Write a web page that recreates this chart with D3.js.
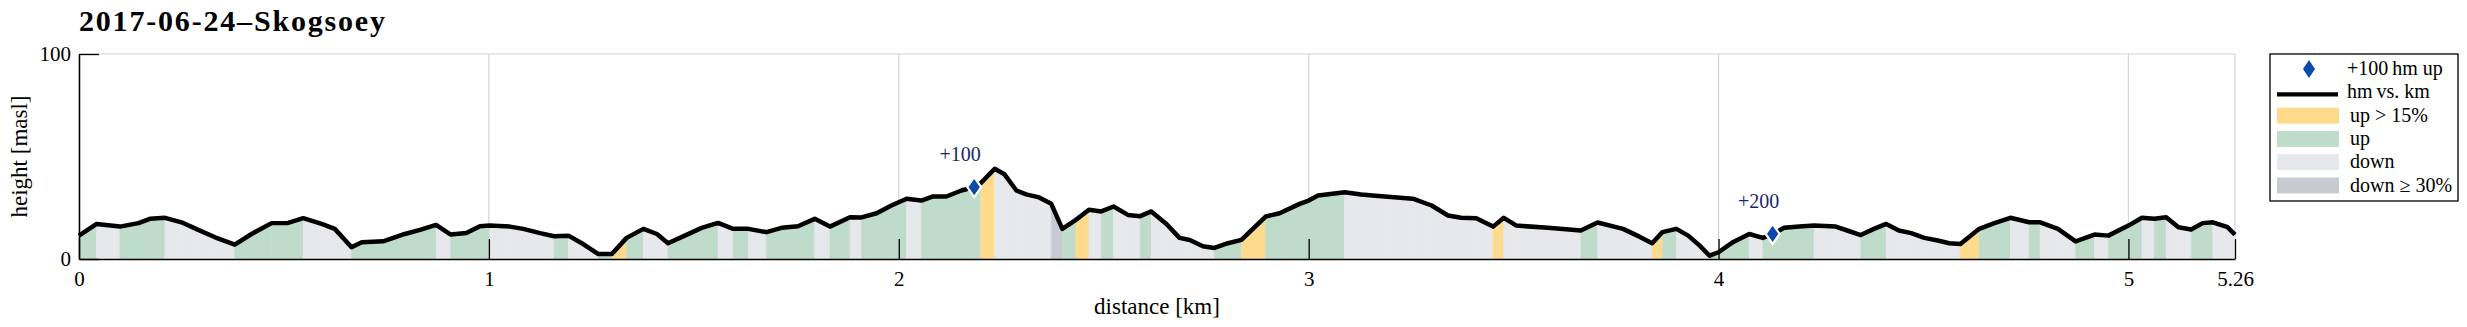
<!DOCTYPE html>
<html><head><meta charset="utf-8">
<script src="https://cdn.jsdelivr.net/npm/d3@7/dist/d3.min.js"></script>
<style>
html,body{margin:0;padding:0;background:#fff;}
text{font-family:"Liberation Serif","DejaVu Serif",serif;}
</style></head>
<body>
<svg id="chart" width="2467" height="327"></svg>
<script>
const title = "2017-06-24\u2013Skogsoey";
const dist = [0.000,0.043,0.100,0.145,0.173,0.210,0.250,0.291,0.332,0.380,
0.421,0.470,0.510,0.547,0.592,0.624,0.665,0.690,0.742,0.795,
0.832,0.871,0.907,0.945,0.978,1.002,1.051,1.084,1.125,1.159,
1.194,1.230,1.267,1.300,1.336,1.377,1.410,1.437,1.478,1.519,
1.559,1.596,1.633,1.677,1.714,1.754,1.795,1.832,1.881,1.909,
1.946,1.982,2.019,2.055,2.084,2.116,2.153,2.184,2.200,2.234,
2.258,2.287,2.311,2.340,2.372,2.399,2.432,2.464,2.494,2.524,
2.559,2.589,2.616,2.653,2.685,2.710,2.742,2.770,2.803,2.836,
2.864,2.895,2.929,2.978,3.000,3.023,3.088,3.128,3.185,3.254,
3.300,3.340,3.372,3.409,3.450,3.476,3.507,3.584,3.664,3.705,
3.767,3.807,3.838,3.863,3.897,3.926,3.954,3.978,4.000,4.035,
4.075,4.108,4.132,4.160,4.197,4.233,4.286,4.314,4.347,4.379,
4.409,4.440,4.470,4.502,4.535,4.563,4.590,4.636,4.673,4.712,
4.758,4.785,4.828,4.871,4.917,4.951,5.000,5.033,5.063,5.092,
5.122,5.153,5.181,5.206,5.242,5.260];
const height = [11.4,17.1,15.8,17.5,19.6,20.1,17.9,14.2,10.6,7.0,
12.2,17.5,17.6,19.9,17.1,14.7,5.7,8.2,8.6,12.2,
14.2,16.6,11.9,12.7,16.0,16.3,15.8,14.7,12.6,11.1,
11.4,7.3,2.4,2.4,10.3,14.7,12.2,7.7,11.4,15.2,
17.6,14.7,14.7,13.1,15.2,16.0,19.6,15.8,20.4,20.3,
22.3,26.1,29.4,28.5,30.5,30.5,33.4,35.1,37.0,44.0,
41.3,33.4,31.5,30.2,26.9,14.7,19.1,24.0,23.2,25.6,
21.5,20.9,23.2,17.1,10.3,9.3,6.2,5.4,7.7,9.3,
14.7,20.7,22.3,26.9,28.5,31.0,32.6,31.5,30.5,29.4,
26.1,21.2,20.1,19.9,15.8,20.1,16.3,15.2,13.9,17.8,
14.7,10.9,7.7,13.1,14.7,11.4,6.5,1.6,3.3,8.2,
12.2,10.3,12.2,15.2,15.8,16.3,15.8,13.9,11.7,14.7,
17.1,13.9,12.6,10.3,9.0,7.7,7.3,14.7,17.5,20.1,
17.9,17.9,14.7,8.6,11.9,11.4,16.3,20.1,19.6,20.4,
15.5,14.4,17.5,17.9,15.5,11.9];
// segment class (from point i to i+1): Y = up > 15%, U = up, D = down, S = down >= 30%
const segClass = ("UDUUU"+"DDDD"+"UUUU"+"DDD"+"UUUUU"+"D"+"UUU"+"DDDD"+"U"+"DD"+"U"+"Y"+"U"+"DD"+
  "UUU"+"D"+"U"+"D"+"UUU"+"D"+"U"+"D"+"UUU"+"D"+"UUUUU"+"Y"+"DDDDD"+"S"+"U"+"Y"+"D"+"U"+"DD"+"U"+
  "DDDDD"+"UU"+"YY"+"UUUUU"+"DDDDDDDD"+"Y"+"DDD"+"U"+"DDD"+"Y"+"U"+"DDD"+"UUU"+"D"+"UUUU"+"DDD"+
  "UU"+"DDDDDD"+"Y"+"UU"+"D"+"U"+"DD"+"U"+"D"+"UU"+"D"+"U"+"DD"+"UU"+"DD").split("");
const markerDist = [2.184, 4.132];
const markerHeight = [35.1, 12.2];
const markerLabels = ["+100", "+200"];
const xTicks = [0,1,2,3,4,5,5.26];
const xTickLabels = ["0","1","2","3","4","5","5.26"];
const yTicks = [0,100];
const yTickLabels = ["0","100"];
const legendLabels = ["+100\u2009hm up","hm\u2009vs. km","up > 15%","up","down","down \u2265 30%"];
const classKeys = ["Y","U","D","S"];
const classColors = ["#fedb8c","#bfdccb","#e7e8ec","#c8c9d1"];

const svg = d3.select("#chart");
const L = 79, R = 2235, T = 54, B = 259;
const x = d3.scaleLinear().domain([0, 5.26]).range([L, R]);
const y = d3.scaleLinear().domain([0, 100]).range([B, T]);
const color = d3.scaleOrdinal().domain(classKeys).range(classColors);

// title
svg.append("text").attr("x", L).attr("y", 31).attr("font-size", 30).attr("font-weight", "bold")
  .attr("fill", "#000").attr("textLength", 306).attr("lengthAdjust", "spacing").text(title);

// grid
const grid = svg.append("g");
grid.selectAll("line.vx").data(xTicks).join("line")
  .attr("x1", d => x(d)).attr("x2", d => x(d)).attr("y1", T).attr("y2", B)
  .attr("stroke", "#d4d4d4").attr("stroke-width", 1.2);
grid.selectAll("line.hy").data(yTicks.filter(d => d > 0)).join("line")
  .attr("x1", L).attr("x2", R).attr("y1", d => y(d)).attr("y2", d => y(d))
  .attr("stroke", "#d4d4d4").attr("stroke-width", 1.2);

// segment fills
const pts = dist.map((d, i) => ({d, h: height[i]}));
const area = d3.area().x(p => x(p.d)).y0(y(0)).y1(p => y(p.h));
const segs = segClass.map((c, i) => ({c, p: [pts[i], pts[i+1]]}));
svg.append("g").selectAll("path").data(segs).join("path")
  .attr("d", s => area(s.p)).attr("fill", s => color(s.c))
  .attr("stroke", s => color(s.c)).attr("stroke-width", 0.6);

// axes
const xAxis = d3.axisBottom(x).tickValues(xTicks).tickFormat((d, i) => xTickLabels[i])
  .tickSizeInner(-20).tickSizeOuter(0).tickPadding(12);
const gx = svg.append("g").attr("transform", `translate(0,${B})`).call(xAxis);
const yAxis = d3.axisLeft(y).tickValues(yTicks).tickFormat((d, i) => yTickLabels[i])
  .tickSizeInner(-20).tickSizeOuter(0).tickPadding(8);
const gy = svg.append("g").attr("transform", `translate(${L},0)`).call(yAxis);
[gx, gy].forEach(g => {
  g.select(".domain").attr("stroke", "#000").attr("stroke-width", 1.5);
  g.selectAll(".tick line").attr("stroke", "#000").attr("stroke-width", 1.3);
  g.selectAll(".tick text").attr("font-family", "Liberation Serif").attr("font-size", 21).attr("fill", "#000");
});

// profile line
const line = d3.line().x(p => x(p.d)).y(p => y(p.h));
svg.append("path").attr("d", line(pts)).attr("fill", "none").attr("stroke", "#000")
  .attr("stroke-width", 4.5).attr("stroke-linejoin", "round");

// markers
const diamond = (cx, cy, w, h) => `M${cx},${cy-h/2}L${cx+w/2},${cy}L${cx},${cy+h/2}L${cx-w/2},${cy}Z`;
const mk = svg.append("g");
markerDist.forEach((d, i) => {
  const cx = x(d), cy = y(markerHeight[i]);
  mk.append("path").attr("d", diamond(cx, cy, 14, 20)).attr("fill", "#0a4aad")
    .attr("stroke", "#fff").attr("stroke-width", 2.2);
  mk.append("text").attr("x", cx - 14).attr("y", cy - 26).attr("text-anchor", "middle")
    .attr("font-size", 20).attr("fill", "#1b2767").text(markerLabels[i]);
});

// axis labels
svg.append("text").attr("x", (L + R) / 2).attr("y", 314).attr("text-anchor", "middle")
  .attr("font-size", 23).attr("fill", "#000").text("distance [km]");
svg.append("text").attr("transform", `translate(27,${(T + B) / 2}) rotate(-90)`)
  .attr("text-anchor", "middle").attr("font-size", 23).attr("fill", "#000").text("height [masl]");

// legend
const lg = svg.append("g");
lg.append("rect").attr("x", 2270).attr("y", 54).attr("width", 188).attr("height", 147)
  .attr("fill", "#fff").attr("stroke", "#000").attr("stroke-width", 1.3);
const rowY = legendLabels.map((_, i) => 69 + i * 23.3);
lg.append("path").attr("d", diamond(2309, rowY[0], 12, 18)).attr("fill", "#0a4aad");
lg.append("line").attr("x1", 2277).attr("x2", 2338).attr("y1", rowY[1] + 2).attr("y2", rowY[1] + 2)
  .attr("stroke", "#000").attr("stroke-width", 4.2);
classKeys.forEach((k, i) => {
  lg.append("rect").attr("x", 2277).attr("y", rowY[i + 2] - 8).attr("width", 62).attr("height", 16)
    .attr("fill", color(k));
});
lg.selectAll("text").data(legendLabels).join("text")
  .attr("x", (d, i) => i < 2 ? 2347 : 2350).attr("y", (d, i) => rowY[i] + 6)
  .attr("font-size", 20).attr("fill", "#000").text(d => d);
</script>
</body></html>
